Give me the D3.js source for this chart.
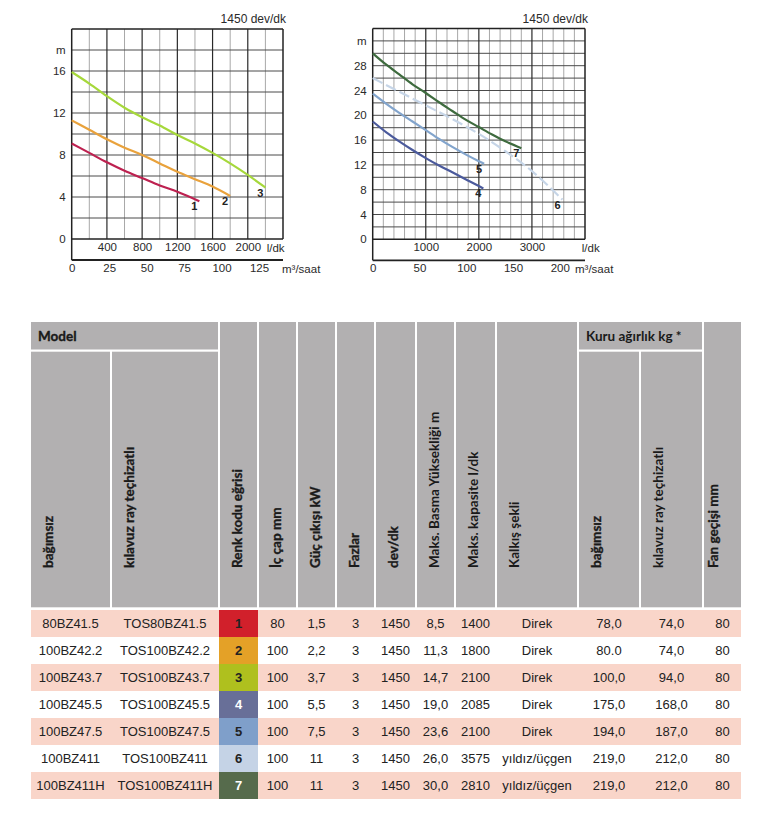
<!DOCTYPE html>
<html>
<head>
<meta charset="utf-8">
<script src="https://cdn.jsdelivr.net/npm/d3@7"></script>
<style>
body { margin: 0; background: #fff; }
</style>
</head>
<body>
<svg id="chart" width="761" height="824"></svg>
<script>
// pump curves, [l/dk, m]
const curve1 = [[0,9.1],[200,8.2],[400,7.3],[600,6.5],[800,5.8],[1000,5.1],[1200,4.5],[1450,3.6]];
const curve2 = [[0,11.3],[200,10.4],[400,9.5],[600,8.7],[800,8.0],[1000,7.2],[1200,6.4],[1400,5.7],[1600,5.0],[1800,4.1]];
const curve3 = [[0,15.9],[200,14.8],[400,13.6],[600,12.5],[800,11.6],[1000,10.8],[1200,9.9],[1400,9.1],[1600,8.2],[1800,7.2],[2000,6.1],[2200,4.9]];
const curve4 = [[0,19.0],[250,17.3],[500,15.8],[750,14.4],[1000,13.1],[1250,11.9],[1500,10.8],[1750,9.7],[2000,8.6],[2085,8.2]];
const curve5 = [[0,23.5],[250,21.9],[500,20.4],[750,19.0],[1000,17.6],[1250,16.2],[1500,14.9],[1750,13.7],[2000,12.6],[2100,12.2]];
const curve6 = [[0,26.0],[500,23.8],[1000,21.6],[1500,19.4],[2000,17.0],[2500,14.2],[3000,11.0],[3575,6.4]];
const curve7 = [[0,30.0],[250,28.2],[500,26.6],[750,25.0],[1000,23.6],[1250,22.1],[1500,20.7],[1750,19.3],[2000,18.1],[2250,16.9],[2500,15.8],[2800,14.7]];

// axis ticks
const flowTicksA = [400, 800, 1200, 1600, 2000];
const m3TicksA = [0, 25, 50, 75, 100, 125];
const headTicksA = [0, 4, 8, 12, 16];
const flowTicksB = [1000, 2000, 3000];
const m3TicksB = [0, 50, 100, 150, 200];
const headTicksB = [0, 4, 8, 12, 16, 20, 24, 28];

// table
const modelFree = ['80BZ41.5','100BZ42.2','100BZ43.7','100BZ45.5','100BZ47.5','100BZ411','100BZ411H'];
const modelRail = ['TOS80BZ41.5','TOS100BZ42.2','TOS100BZ43.7','TOS100BZ45.5','TOS100BZ47.5','TOS100BZ411','TOS100BZ411H'];
const colorCode = ['1','2','3','4','5','6','7'];
const bore = ['80','100','100','100','100','100','100'];
const power = ['1,5','2,2','3,7','5,5','7,5','11','11'];
const phases = ['3','3','3','3','3','3','3'];
const rpm = ['1450','1450','1450','1450','1450','1450','1450'];
const maxHead = ['8,5','11,3','14,7','19,0','23,6','26,0','30,0'];
const maxCap = ['1400','1800','2100','2085','2100','3575','2810'];
const startType = ['Direk','Direk','Direk','Direk','Direk','yıldız/üçgen','yıldız/üçgen'];
const weightFree = ['78,0','80.0','100,0','175,0','194,0','219,0','219,0'];
const weightRail = ['74,0','74,0','94,0','168,0','187,0','212,0','212,0'];
const fanPass = ['80','80','80','80','80','80','80'];
const headers = ['bağımsız','kılavuz ray teçhizatlı','Renk kodu eğrisi','İç çap mm','Güç çıkışı kW','Fazlar','dev/dk','Maks. Basma Yüksekliği m','Maks. kapasite l/dk','Kalkış şekli','bağımsız','kılavuz ray teçhizatlı','Fan geçişi mm'];

const curveColors = ['#bd2150','#e9a23c','#a6d83b','#4b5a9c','#82a4cc','#c6d5e7','#3e6b3e'];
const codeColors = ['#d1202b','#e4a127','#afc01e','#686f98','#7f9fca','#c5d3e6','#566b4c'];

const svg = d3.select('#chart');
svg.append('rect').attr('width', 761).attr('height', 824).attr('fill', '#fff');

const chartFont = "Arial, 'Liberation Sans', sans-serif";

function drawPanel(p) {
  const x = d3.scaleLinear().domain([0, p.qMax]).range([p.left, p.right]);
  const xm = d3.scaleLinear().domain([0, p.m3Max]).range([p.left, p.right]);
  const y = d3.scaleLinear().domain([0, p.hMax]).range([p.bottom, p.top]);
  const g = svg.append('g');
  const base = p.bottom + 21;

  const minor = d3.range(p.minor, p.qMax, p.minor).filter(v => v % p.major !== 0);
  const major = d3.range(p.major, p.qMax, p.major);

  g.selectAll('.vminor').data(minor).enter().append('line')
    .attr('x1', d => x(d)).attr('x2', d => x(d))
    .attr('y1', y(0)).attr('y2', y(p.hMax))
    .attr('stroke', '#a8a8a8').attr('stroke-width', 1);

  g.selectAll('.hgrid').data(d3.range(2, p.hMax, 2)).enter().append('line')
    .attr('x1', p.left).attr('x2', p.right)
    .attr('y1', d => y(d)).attr('y2', d => y(d))
    .attr('stroke', '#4a4a4a').attr('stroke-width', 1);

  g.selectAll('.vmajor').data(major).enter().append('line')
    .attr('x1', d => x(d)).attr('x2', d => x(d))
    .attr('y1', y(0)).attr('y2', y(p.hMax))
    .attr('stroke', '#2a2a2a').attr('stroke-width', 1.2);

  // frame
  g.append('line').attr('x1', p.left).attr('x2', p.right).attr('y1', y(p.hMax)).attr('y2', y(p.hMax))
    .attr('stroke', '#222').attr('stroke-width', 1.5);
  g.append('line').attr('x1', p.left).attr('x2', p.right).attr('y1', y(0)).attr('y2', y(0))
    .attr('stroke', '#222').attr('stroke-width', 1.5);
  g.append('line').attr('x1', p.right).attr('x2', p.right).attr('y1', y(p.hMax)).attr('y2', y(0))
    .attr('stroke', '#222').attr('stroke-width', 1.5);
  g.append('line').attr('x1', p.left).attr('x2', p.left).attr('y1', y(p.hMax)).attr('y2', base)
    .attr('stroke', '#222').attr('stroke-width', 1.5);
  g.append('line').attr('x1', p.left).attr('x2', p.right).attr('y1', base).attr('y2', base)
    .attr('stroke', '#222').attr('stroke-width', 1.8);

  // curves
  const line = d3.line().x(d => x(d[0])).y(d => y(d[1])).curve(d3.curveMonotoneX);
  p.curves.forEach(c => {
    g.append('path').datum(c.data)
      .attr('d', line)
      .attr('fill', 'none')
      .attr('stroke', curveColors[c.id - 1])
      .attr('stroke-width', 2.2)
      .attr('stroke-dasharray', c.dash || null);
    const last = c.data[c.data.length - 1];
    g.append('text')
      .attr('x', x(last[0]) - 5).attr('y', y(last[1]) + 9)
      .attr('text-anchor', 'middle')
      .style('font-family', chartFont).style('font-size', '11px').style('font-weight', 'bold')
      .attr('fill', '#222')
      .text(c.id);
  });

  const styleTicks = sel => sel.selectAll('text')
    .style('font-family', chartFont).style('font-size', '11.5px').attr('fill', '#2a2a2a');

  // y axis
  const yAxis = d3.axisLeft(y).tickValues(p.headTicks.concat([p.mAt])).tickSize(0).tickPadding(6)
    .tickFormat(d => d === p.mAt ? 'm' : String(d));
  g.append('g').attr('transform', 'translate(' + p.left + ',0)').call(yAxis)
    .call(a => a.select('.domain').remove())
    .call(styleTicks);

  // l/dk axis
  const xAxis = d3.axisBottom(x).tickValues(p.flowTicks).tickSize(0).tickPadding(4).tickFormat(d => String(d));
  g.append('g').attr('transform', 'translate(0,' + y(0) + ')').call(xAxis)
    .call(a => a.select('.domain').remove())
    .call(styleTicks);
  g.append('text').attr('x', x(p.ldkAt)).attr('y', y(0) + 13)
    .style('font-family', chartFont).style('font-size', '11.5px').attr('fill', '#2a2a2a')
    .text('l/dk');

  // m3/saat axis
  const mAxis = d3.axisBottom(xm).tickValues(p.m3Ticks).tickSize(0).tickPadding(4).tickFormat(d => String(d));
  g.append('g').attr('transform', 'translate(0,' + base + ')').call(mAxis)
    .call(a => a.select('.domain').remove())
    .call(styleTicks);
  g.append('text').attr('x', p.right + p.m3Dx).attr('y', base + 13)
    .style('font-family', chartFont).style('font-size', '11.5px').attr('fill', '#2a2a2a')
    .text('m³/saat');

  g.append('text').attr('x', p.right + 3).attr('y', p.top - 6)
    .attr('text-anchor', 'end')
    .style('font-family', chartFont).style('font-size', '12px').attr('fill', '#2a2a2a')
    .text('1450 dev/dk');
}

drawPanel({
  left: 71.7, right: 283, top: 29, bottom: 239,
  qMax: 2400, m3Max: 141, hMax: 20, major: 400, minor: 200,
  flowTicks: flowTicksA, m3Ticks: m3TicksA, headTicks: headTicksA, mAt: 18,
  ldkAt: 2215, m3Dx: -1,
  curves: [{id: 1, data: curve1}, {id: 2, data: curve2}, {id: 3, data: curve3}]
});

drawPanel({
  left: 372.7, right: 585, top: 28.5, bottom: 239.3,
  qMax: 4000, m3Max: 227, hMax: 34, major: 1000, minor: 200,
  flowTicks: flowTicksB, m3Ticks: m3TicksB, headTicks: headTicksB, mAt: 32,
  ldkAt: 3940, m3Dx: -10,
  curves: [{id: 7, data: curve7}, {id: 6, data: curve6, dash: '11,4'}, {id: 5, data: curve5}, {id: 4, data: curve4}]
});

// ---- table ----
const colX = [31, 112, 220, 259, 298, 337, 376, 417, 456, 497, 579, 641, 704, 743];
const headFont = "Lato, 'Open Sans', sans-serif";
const gray = '#b2b0b1';
const t = svg.append('g');
const hTop = 322, hMid = 349.5, hSub = 351.7, hBot = 607.3;
// these header labels are set lighter in the original
const lightCols = [7, 8, 9, 11];

const headCells = headers.map((h, i) => {
  const grouped = i < 2 || i === 10 || i === 11;
  return {label: h, x0: colX[i], x1: colX[i + 1] - 2, y0: grouped ? hSub : hTop, i: i, light: lightCols.includes(i)};
});

t.selectAll('.hcell').data(headCells).enter().append('rect')
  .attr('x', d => d.x0).attr('y', d => d.y0)
  .attr('width', d => d.x1 - d.x0).attr('height', d => hBot - d.y0)
  .attr('fill', gray);

const groups = [{label: 'Model', x0: colX[0], x1: colX[2] - 2, light: false}, {label: 'Kuru ağırlık kg *', x0: colX[10], x1: colX[12] - 2, light: true}];
t.selectAll('.gcell').data(groups).enter().append('rect')
  .attr('x', d => d.x0).attr('y', hTop)
  .attr('width', d => d.x1 - d.x0).attr('height', hMid - hTop)
  .attr('fill', gray);
t.selectAll('.gtext').data(groups).enter().append('text')
  .attr('x', d => d.x0 + 7).attr('y', 341)
  .style('font-family', headFont).style('font-size', '13.5px').style('font-weight', 'bold')
  .attr('fill', '#1a1a1a').attr('stroke', '#1a1a1a').attr('stroke-width', d => d.light ? 0 : 0.35)
  .text(d => d.label);

t.selectAll('.htext').data(headCells).enter().append('text')
  .attr('transform', d => 'translate(' + (d.x0 + (d.i === 12 ? 14 : 22)) + ',568) rotate(-90)')
  .style('font-family', headFont).style('font-size', '13.5px').style('font-weight', 'bold')
  .attr('fill', '#1a1a1a').attr('stroke', '#1a1a1a').attr('stroke-width', d => d.light ? 0 : 0.35)
  .text(d => d.label);

const rowY = d3.scaleBand().domain(d3.range(modelFree.length)).range([610, 799]);

t.selectAll('.band').data(d3.range(modelFree.length).filter(i => i % 2 === 0)).enter().append('rect')
  .attr('x', colX[0]).attr('y', d => rowY(d))
  .attr('width', colX[13] - 2 - colX[0]).attr('height', rowY.bandwidth())
  .attr('fill', '#f9d5c9');

t.selectAll('.code').data(colorCode).enter().append('rect')
  .attr('x', colX[2] - 1).attr('y', (d, i) => rowY(i))
  .attr('width', colX[3] - colX[2]).attr('height', rowY.bandwidth())
  .attr('fill', (d, i) => codeColors[i]);

const columns = [modelFree, modelRail, colorCode, bore, power, phases, rpm, maxHead, maxCap, startType, weightFree, weightRail, fanPass];
const cells = [];
columns.forEach((col, c) => col.forEach((v, r) => cells.push({v: v, c: c, r: r})));

t.selectAll('.cell').data(cells).enter().append('text')
  .attr('x', d => (colX[d.c] + colX[d.c + 1] - 2) / 2)
  .attr('y', d => rowY(d.r) + rowY.bandwidth() / 2 + 4.5)
  .attr('text-anchor', 'middle')
  .style('font-family', chartFont).style('font-size', '13px')
  .style('font-weight', d => d.c === 2 ? 'bold' : 'normal')
  .attr('fill', d => d.c === 2 && (d.r === 3 || d.r === 6) ? '#fff' : '#222')
  .text(d => d.v);
</script>
</body>
</html>
